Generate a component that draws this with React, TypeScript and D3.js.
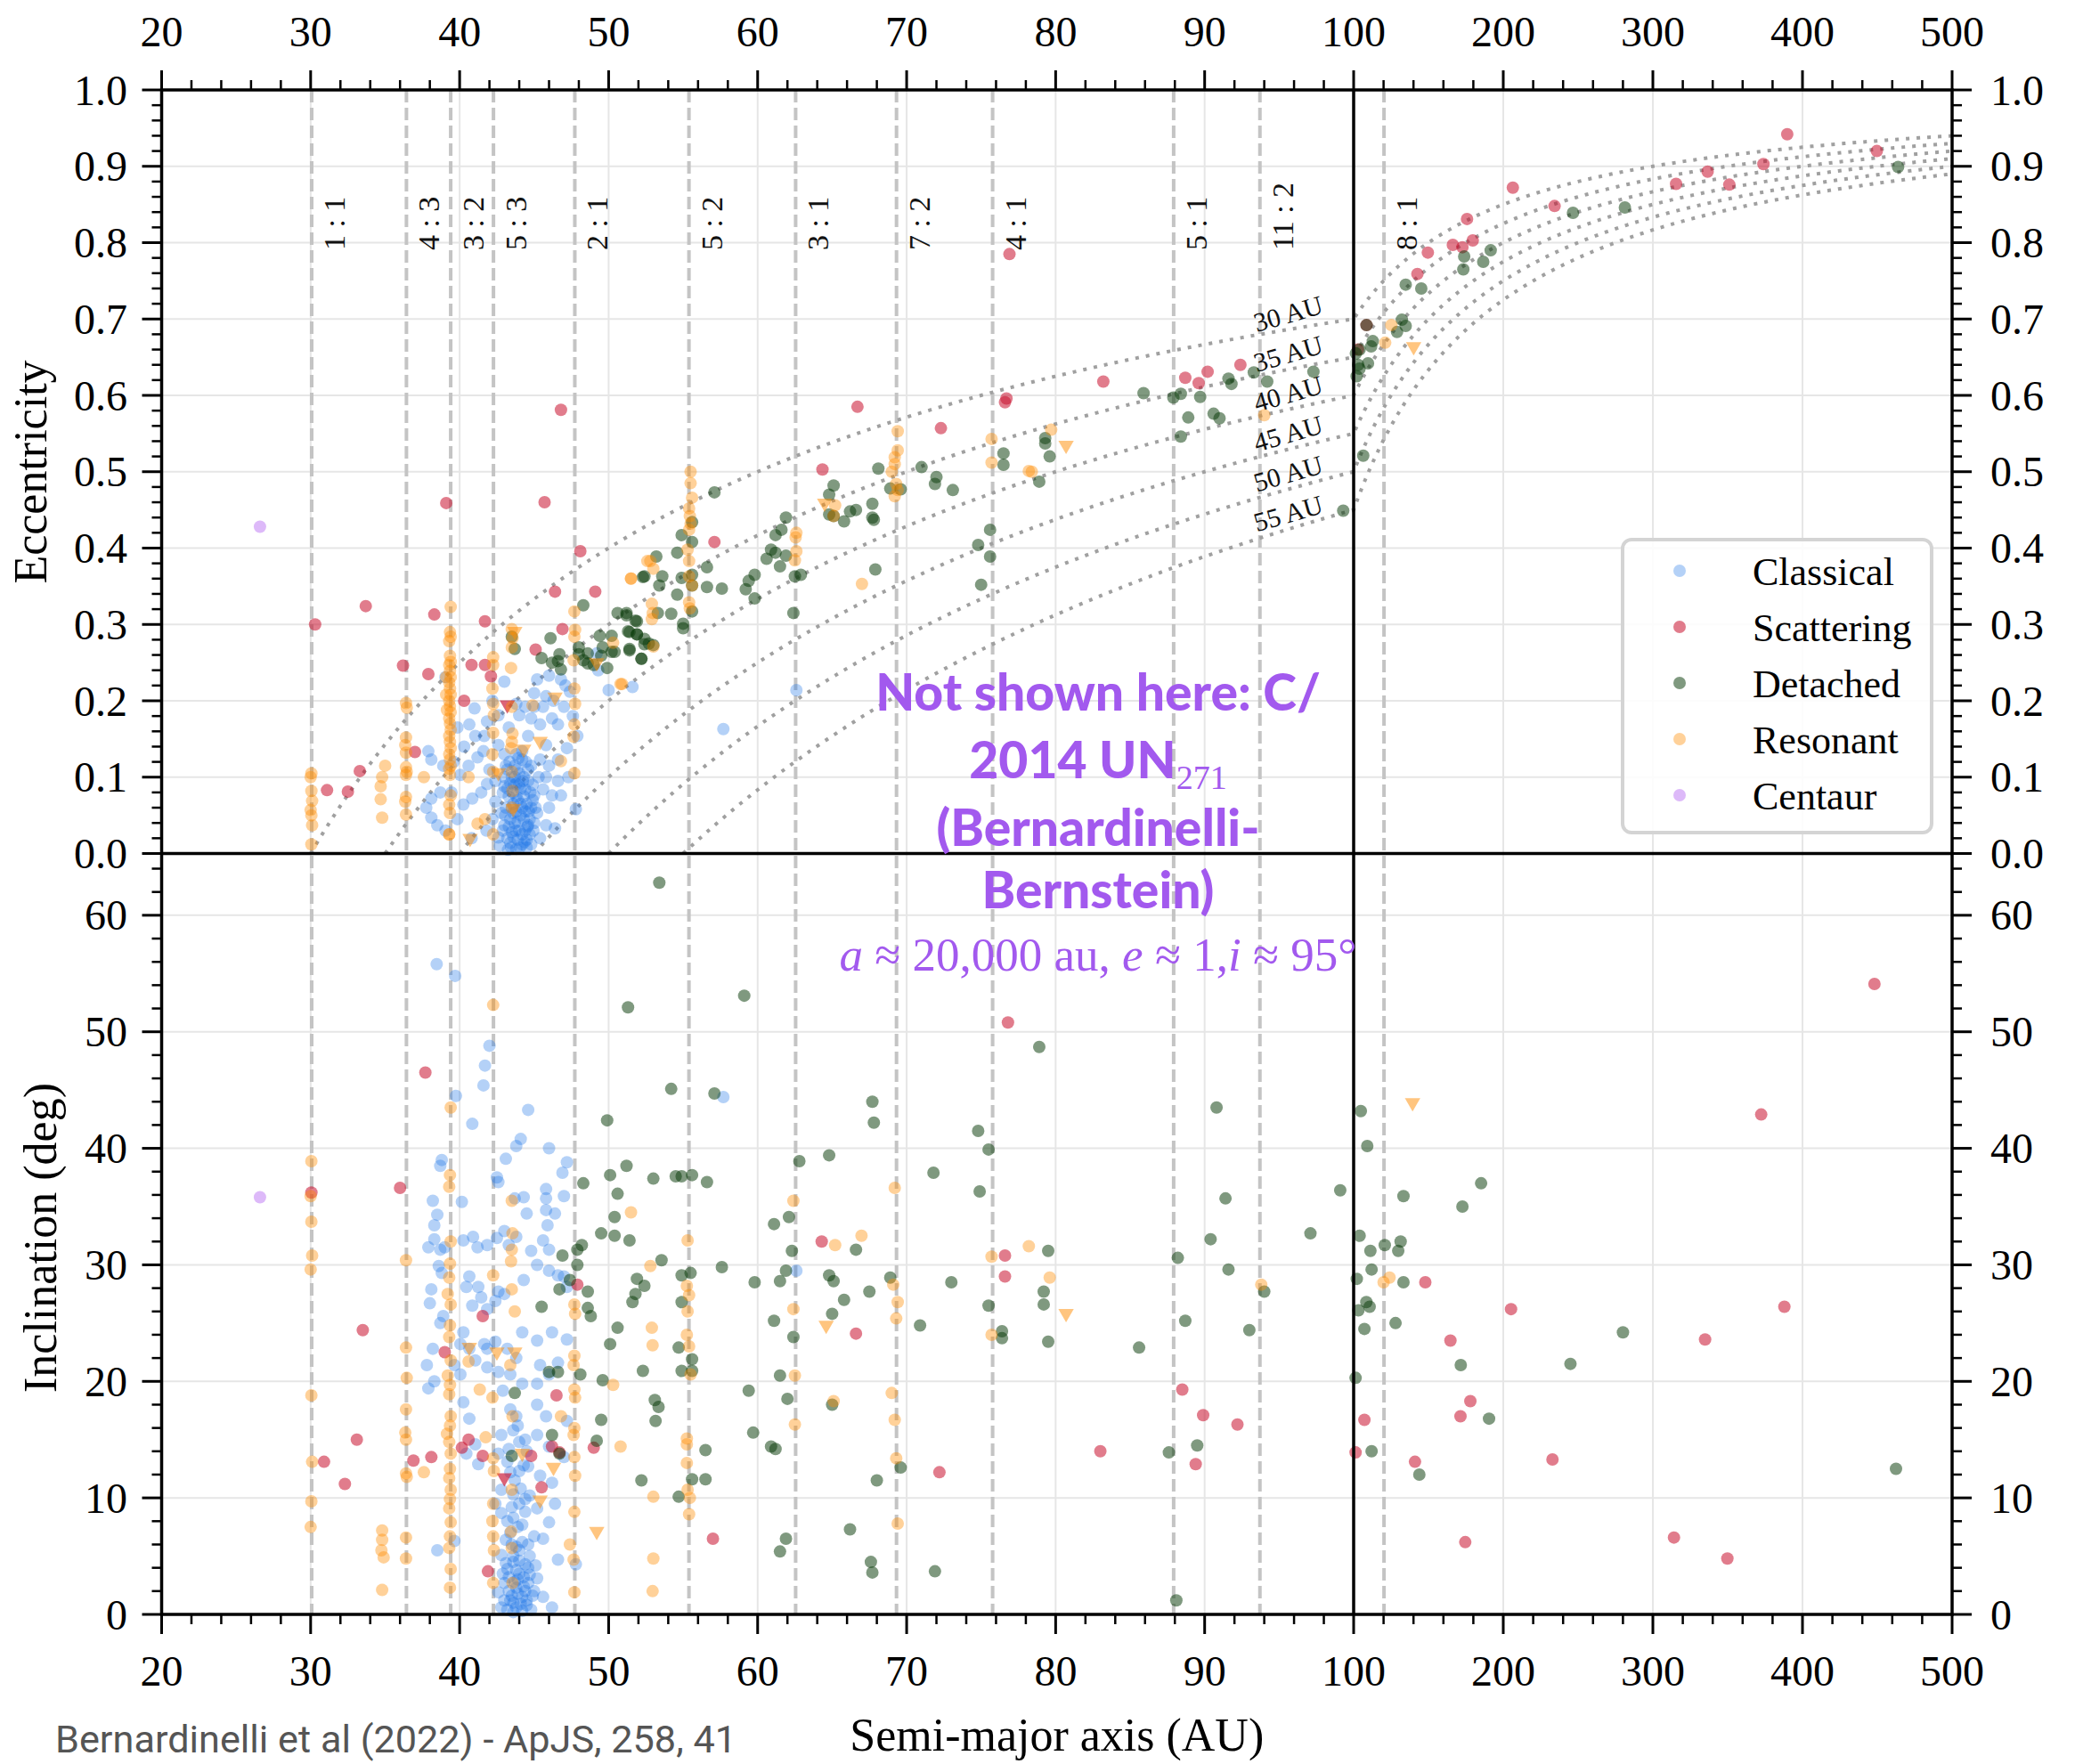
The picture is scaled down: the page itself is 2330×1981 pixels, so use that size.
import React from 'react';
import * as d3 from 'd3';

type Pt = [number, number];

// semi-major axis (AU), eccentricity / inclination (deg)
const classicalEcc: Pt[] = [
  [43.0,0.225],[45.2,0.228],[46.0,0.233],[46.8,0.228],[47.1,0.22],[45.8,0.206],[45.6,0.192],[45.0,0.192],[44.4,0.192],[44.8,0.177],
  [45.4,0.169],[46.2,0.177],[46.6,0.169],[47.0,0.192],[47.4,0.212],[47.9,0.154],[47.2,0.138],[46.6,0.123],[46.0,0.115],[45.4,0.123],
  [44.8,0.115],[44.2,0.123],[43.8,0.13],[43.0,0.13],[42.6,0.142],[41.6,0.134],[41.2,0.126],[40.6,0.115],[40.05,0.103],[39.45,0.08],
  [38.7,0.08],[38.1,0.072],[37.76,0.06],[38.1,0.047],[38.5,0.037],[39.05,0.03],[39.85,0.045],[40.25,0.064],[40.85,0.072],[41.45,0.08],
  [41.84,0.091],[42.4,0.095],[43.0,0.088],[43.8,0.091],[44.4,0.084],[45.0,0.076],[45.6,0.084],[46.2,0.076],[46.8,0.076],[46.6,0.095],
  [45.8,0.1],[45.2,0.053],[45.8,0.037],[46.4,0.033],[44.6,0.037],[43.0,0.037],[42.6,0.021],[43.4,0.014],[43.8,0.006],[42.8,0.053],
  [42.4,0.068],[44.2,0.06],[43.6,0.053],[47.8,0.058],[50.0,0.214],[51.6,0.218],[49.3,0.24],[49.2,0.262],[37.9,0.134],[38.1,0.123],
  [38.9,0.115],[39.85,0.165],[40.65,0.169],[41.05,0.154],[41.84,0.173],[41.65,0.154],[43.8,0.196],[44.0,0.181],[42.6,0.181],[43.3,0.165],
  [45.8,0.142],[44.6,0.154],[44.2,0.134],[39.05,0.231],[57.7,0.163],[62.6,0.214],
  [43.2,0.11],[43.5,0.1],[43.7,0.115],[44.0,0.105],[44.3,0.1],[44.6,0.11],[43.3,0.075],[43.6,0.08],[43.9,0.07],[44.1,0.085],
  [44.5,0.065],[44.8,0.06],[43.1,0.06],[43.4,0.045],[43.7,0.04],[44.0,0.03],[44.3,0.045],[44.7,0.025],[43.2,0.02],[43.5,0.028],
  [43.9,0.018],[44.2,0.012],[44.5,0.008],[43.6,0.065],[44.9,0.09],[43.0,0.1],[42.9,0.08],[44.4,0.03],[43.8,0.055],[44.1,0.05],
  [41.0,0.19],[40.3,0.14],[39.6,0.12],[42.0,0.11],[42.2,0.2],[45.0,0.21],[46.3,0.2],[47.6,0.18],[47.3,0.1],[46.0,0.06],
  [45.4,0.02],[41.8,0.03],[40.8,0.02],[42.2,0.045],
  [43.1,0.115],[43.4,0.092],[43.7,0.1],[44.0,0.09],[44.3,0.075],[44.6,0.095],[44.9,0.07],[43.2,0.085],[43.5,0.06],[43.8,0.075],
  [44.1,0.065],[44.4,0.055],[44.7,0.045],[45.0,0.04],[43.3,0.035],[43.6,0.022],[43.9,0.042],[44.2,0.025],[44.5,0.018],[44.8,0.012],
  [43.05,0.05],[43.45,0.008],[43.75,0.03],[44.05,0.008],[44.35,0.015],[44.65,0.055],[44.95,0.03],[43.35,0.12],[43.85,0.11],[44.45,0.12],
  [42.9,0.03],[45.1,0.06],[43.65,0.09],[44.25,0.095],[43.95,0.125],[44.75,0.08],[42.7,0.01],[45.3,0.1],[43.25,0.005],[44.55,0.035],
];
const classicalInc: Pt[] = [
  [38.46,55.8],[39.7,54.8],[42.0,48.8],[41.7,47.1],[41.6,45.4],[39.75,44.5],[40.85,42.1],[44.6,43.3],[44.1,40.8],[43.8,40.2],
  [43.1,39.1],[46.0,40.0],[47.2,38.8],[46.9,37.9],[38.8,39.0],[38.7,38.5],[42.5,37.5],[42.6,37.1],[40.15,35.4],[38.2,35.5],
  [38.5,34.3],[38.3,33.4],[38.3,32.2],[37.9,31.5],[38.7,31.3],[39.0,31.5],[38.6,29.9],[38.8,29.3],[40.25,32.1],[40.9,32.4],
  [41.2,31.5],[41.85,31.7],[42.5,32.3],[43.0,32.9],[43.8,32.4],[43.7,35.7],[44.3,35.8],[44.5,34.4],[45.8,36.5],[45.8,35.7],
  [45.8,34.7],[46.4,34.4],[45.9,33.4],[47.0,35.9],[45.6,32.1],[44.8,31.2],[46.0,31.3],[45.2,30.0],[46.0,29.5],[46.6,29.1],
  [47.0,29.0],[47.2,28.1],[44.3,28.7],[43.3,31.7],[42.6,27.7],[42.4,26.9],[43.0,27.5],[40.65,29.0],[40.45,28.1],[41.25,28.1],
  [41.45,27.2],[40.85,26.5],[41.85,26.2],[40.25,24.2],[40.05,23.2],[40.65,22.8],[41.65,23.2],[41.85,22.8],[42.4,23.4],[43.2,22.8],
  [43.8,22.0],[44.2,24.2],[45.2,23.5],[46.2,24.2],[47.2,23.6],[45.4,21.4],[46.6,21.6],[46.0,20.6],[45.2,19.8],[44.2,19.8],
  [43.4,20.6],[42.6,20.8],[41.85,21.2],[41.05,21.8],[40.05,20.6],[39.65,21.4],[37.8,21.4],[38.2,22.8],[38.3,20.0],[37.9,19.4],
  [38.1,27.9],[38.0,26.7],[38.7,25.0],[38.9,25.6],[42.9,19.2],[43.4,17.6],[43.8,17.0],[45.2,18.0],[45.8,17.0],[47.2,16.6],
  [40.25,18.2],[40.65,16.8],[41.05,14.6],[40.45,13.8],[41.25,12.9],[42.8,15.4],[43.6,15.8],[44.4,15.0],[45.2,15.4],[46.0,14.4],
  [47.0,13.5],[42.6,13.8],[43.2,13.1],[44.0,12.3],[44.6,12.7],[45.4,11.9],[46.2,11.3],[42.8,10.7],[43.6,10.3],[44.4,9.9],
  [45.2,9.1],[46.4,9.5],[46.0,7.9],[42.4,9.5],[42.8,8.7],[43.6,8.3],[44.2,7.7],[45.0,6.7],[45.6,6.5],[46.6,4.7],
  [47.8,4.3],[38.5,5.5],[39.65,6.3],
  [42.8,5.1],[43.2,3.9],[43.6,4.5],[44.0,3.5],[44.4,4.3],[43.0,2.7],[43.8,2.3],[44.2,1.5],[43.4,1.2],[42.8,0.6],
  [44.6,2.7],[45.0,2.0],[43.8,0.6],[42.6,1.9],[45.2,3.1],[45.6,1.5],[46.2,0.6],[43.5,6.0],[44.0,5.5],[43.3,2.0],
  [44.5,0.8],[43.9,3.0],[44.3,2.4],[43.1,4.4],[44.7,5.0],[43.6,1.0],[57.7,44.4],[62.6,29.5],
  [43.2,0.4],[43.5,1.6],[43.8,3.8],[44.1,0.9],[44.4,2.0],[44.7,3.4],[43.0,1.2],[43.3,3.2],[43.6,5.0],[43.9,1.8],
  [44.2,6.2],[44.5,1.2],[44.8,0.4],[43.4,7.0],[43.7,2.8],[44.0,4.6],[44.3,3.2],[44.6,4.0],[43.1,6.4],[43.9,7.5],
  [44.4,8.8],[43.5,9.2],[44.1,10.8],[43.7,11.5],[44.3,12.8],[43.3,14.2],[44.0,14.8],[43.6,0.2],[44.2,0.3],[44.9,1.6],
  [45.1,4.2],[42.9,3.5],[43.8,5.8],[44.6,6.0],[43.2,8.0],[44.0,9.5],[44.7,10.2],[43.4,12.2],[44.5,14.0],[43.9,16.2],
];

const scatteringEcc: Pt[] = [
  [30.3,0.30],[31.1,0.083],[32.5,0.081],[33.3,0.108],[33.7,0.324],[36.2,0.246],[37.0,0.133],[37.9,0.235],[38.3,0.313],[39.1,0.459],
  [40.3,0.20],[40.8,0.247],[41.7,0.304],[41.7,0.247],[42.1,0.232],[45.1,0.267],[45.7,0.46],[46.4,0.343],[46.8,0.581],[46.9,0.294],
  [48.1,0.396],[49.1,0.343],[57.1,0.408],[64.35,0.503],[66.7,0.585],[72.3,0.557],[76.6,0.591],[76.7,0.596],[76.9,0.785],[83.2,0.618],
  [88.7,0.623],[89.6,0.616],[90.2,0.631],[92.4,0.640],[102.9,0.66],[108.6,0.692],[142.6,0.759],[149.6,0.787],[166.3,0.797],[172.7,0.794],
  [175.8,0.831],[179.6,0.803],[206.4,0.872],[234.3,0.848],[315.5,0.877],[336.6,0.893],[351.1,0.876],[373.9,0.903],[389.8,0.942],[449.7,0.92],
];
const scatteringInc: Pt[] = [
  [37.7,46.5],[30.05,36.2],[36.0,36.6],[33.5,24.4],[33.1,15.0],[30.9,13.1],[32.3,11.2],[36.9,13.2],[38.1,13.5],[39.0,22.5],
  [41.55,25.6],[40.15,14.3],[40.6,15.0],[41.55,13.6],[44.8,13.6],[46.5,18.8],[47.9,28.3],[46.2,14.4],[46.7,13.9],[45.5,10.9],
  [49.0,14.3],[41.9,3.7],[76.8,50.8],[64.3,32.0],[66.6,24.1],[76.6,30.8],[76.6,29.0],[72.2,12.2],[83.0,14.0],[88.5,19.3],
  [89.9,17.1],[92.2,16.3],[89.4,12.9],[57.0,6.5],[448.1,54.1],[372.4,42.9],[387.9,26.4],[334.9,23.6],[205.2,26.2],[164.7,23.5],
  [147.9,28.5],[178.0,18.3],[171.4,17.0],[107.2,16.7],[101.3,13.9],[141.0,13.1],[232.9,13.3],[174.6,6.2],[314.1,6.6],[349.8,4.8],
];
const scatteringTriEcc: Pt[] = [[43.2,0.196]];
const scatteringTriInc: Pt[] = [[43.0,11.8]];

const detachedEcc: Pt[] = [
  [48.3,0.325],[46.1,0.282],[45.5,0.256],[46.7,0.261],[46.2,0.25],[46.8,0.241],[46.6,0.252],[48.0,0.27],[48.0,0.261],[48.6,0.262],
  [48.6,0.249],[48.3,0.253],[49.0,0.247],[49.4,0.285],[50.2,0.285],[49.6,0.27],[50.2,0.264],[50.4,0.264],[49.9,0.243],[49.5,0.259],
  [51.4,0.266],[52.2,0.255],[50.6,0.315],[51.2,0.312],[51.8,0.305],[51.4,0.29],[51.9,0.287],[52.4,0.274],[52.3,0.362],[43.5,0.284],
  [43.7,0.268],[57.1,0.473],[68.1,0.504],[71.0,0.506],[72.0,0.493],[71.9,0.484],[73.1,0.476],[65.1,0.482],[64.8,0.47],[64.8,0.444],
  [65.1,0.442],[65.8,0.435],[66.2,0.448],[66.6,0.45],[67.7,0.458],[67.7,0.44],[67.8,0.437],[68.9,0.478],[69.6,0.477],[76.5,0.524],
  [76.5,0.509],[79.3,0.544],[79.3,0.537],[79.6,0.52],[78.9,0.487],[75.6,0.424],[74.8,0.404],[75.6,0.389],[75.0,0.352],[67.9,0.372],
  [61.9,0.44],[61.6,0.424],[61.2,0.417],[60.9,0.398],[61.2,0.394],[61.9,0.39],[61.5,0.376],[62.5,0.363],[62.9,0.365],[62.4,0.315],
  [60.6,0.386],[59.8,0.365],[59.4,0.357],[59.2,0.346],[59.8,0.334],[57.6,0.347],[56.6,0.375],[56.6,0.349],[55.6,0.434],[55.6,0.408],
  [55.6,0.365],[55.6,0.351],[55.6,0.317],[55.0,0.295],[55.0,0.301],[54.6,0.339],[54.6,0.394],[54.9,0.417],[54.2,0.314],[54.9,0.361],
  [53.6,0.363],[53.4,0.351],[53.2,0.389],[52.4,0.363],[53.3,0.315],[51.9,0.304],[51.2,0.315],[51.3,0.291],[51.9,0.287],[52.4,0.281],
  [52.7,0.275],[51.4,0.268],[52.2,0.255],[53.0,0.273],
  [85.9,0.603],[87.9,0.597],[88.4,0.602],[89.7,0.598],[88.9,0.571],[90.6,0.576],[91.0,0.570],[88.4,0.546],[91.6,0.622],[91.8,0.615],
  [93.3,0.630],[94.2,0.618],[97.3,0.631],[99.3,0.449],[106.4,0.521],
  [108.6,0.692],[112.8,0.671],[111.7,0.664],[109.6,0.642],[103.9,0.635],[101.5,0.655],[103.0,0.64],[104.0,0.66],[102.0,0.625],
  [463.9,0.899],[281.3,0.846],[246.6,0.839],[191.6,0.790],[186.6,0.775],[173.9,0.782],[173.3,0.765],[134.8,0.745],[145.2,0.740],[132.2,0.699],
  [134.8,0.691],[129.0,0.683],
];
const detachedInc: Pt[] = [
  [51.3,52.1],[49.9,42.4],[53.0,37.4],[51.2,38.5],[50.1,37.7],[48.3,37.0],[50.6,36.1],[50.4,34.1],[49.5,32.7],[50.4,32.5],
  [51.4,32.1],[53.55,30.4],[48.2,31.7],[47.9,31.3],[47.9,30.0],[46.9,30.8],[47.4,28.7],[46.7,27.9],[45.5,26.4],[48.6,27.7],
  [48.6,26.3],[48.8,25.6],[51.9,28.8],[52.4,28.2],[51.8,27.5],[51.6,26.8],[50.6,24.6],[50.1,23.2],[46.0,20.8],[46.6,20.8],
  [48.1,20.6],[49.6,20.1],[52.3,20.9],[43.7,19.0],[53.1,18.4],[53.35,17.8],[53.15,16.6],[49.5,16.7],[46.2,15.4],[46.7,13.8],
  [43.5,13.6],[49.2,14.9],[52.2,11.5],[53.4,62.8],
  [59.1,53.1],[54.2,45.1],[57.1,44.7],[67.7,44.0],[67.8,42.2],[74.8,41.5],[75.5,39.9],[78.9,48.7],[90.8,43.5],[99.1,36.4],
  [97.1,32.7],[91.4,35.7],[90.4,32.2],[88.2,30.6],[91.6,29.6],[94.0,27.7],[93.0,24.4],[88.7,25.2],[85.6,22.9],[79.5,31.2],
  [79.2,27.7],[79.2,26.6],[79.5,23.4],[75.5,26.5],[76.4,24.3],[76.4,23.7],[74.9,36.3],[73.0,28.5],[71.8,37.9],[70.9,24.8],
  [68.9,28.9],[67.5,27.7],[65.8,27.0],[64.8,29.1],[65.1,28.6],[65.0,25.8],[64.8,39.4],[66.6,31.3],[62.8,38.9],[62.3,31.2],
  [61.9,29.5],[62.1,34.1],[61.1,33.5],[61.5,28.6],[61.1,25.2],[62.4,23.8],[59.8,28.5],[61.5,20.5],[62.0,18.5],[59.4,19.2],
  [59.7,15.6],[60.9,14.4],[61.2,14.2],[56.5,14.1],[55.6,11.6],[56.5,11.6],[54.7,10.1],[69.6,12.6],[68.0,11.5],[66.2,7.3],
  [61.9,6.5],[61.5,5.4],[67.6,4.5],[67.7,3.6],[71.9,3.7],[88.1,1.2],[87.6,13.9],[89.5,14.5],[65.0,18.0],[57.6,29.8],
  [54.5,37.6],[54.9,37.6],[55.6,37.7],[56.6,37.1],[54.9,29.1],[55.5,29.3],[54.9,26.8],[54.7,22.9],[55.6,21.9],[54.9,20.9],
  [55.6,20.9],
  [104.8,43.2],[109.1,40.2],[133.3,35.9],[185.2,37.0],[172.7,35.0],[104.0,32.5],[111.2,31.2],[120.8,31.7],[131.4,32.0],[129.8,31.2],
  [112.0,29.6],[102.1,28.8],[133.3,28.5],[108.5,26.8],[110.7,26.4],[103.2,26.1],[107.2,24.5],[128.0,25.0],[280.0,24.2],[244.9,21.5],
  [171.6,21.4],[101.3,20.3],[190.5,16.8],[112.0,14.0],[143.9,12.0],[462.5,12.5],
];

const resonantEcc: Pt[] = [
  [30.05,0.105],[30.0,0.1],[30.05,0.082],[30.1,0.069],[30.0,0.057],[30.05,0.05],[30.1,0.037],[30.05,0.012],
  [35.0,0.115],[34.8,0.1],[34.7,0.088],[34.7,0.071],[34.8,0.047],
  [36.4,0.197],[36.45,0.191],[36.4,0.152],[36.35,0.142],[36.4,0.132],[36.4,0.113],[36.45,0.107],[36.4,0.103],[36.4,0.074],[36.35,0.068],
  [36.4,0.051],[37.6,0.1],
  [39.4,0.323],[39.35,0.29],[39.4,0.284],[39.3,0.278],[39.35,0.259],[39.4,0.251],[39.3,0.247],[39.35,0.239],[39.4,0.231],[39.3,0.224],
  [39.35,0.216],[39.4,0.208],[39.3,0.2],[39.35,0.193],[39.4,0.185],[39.3,0.177],[39.35,0.17],[39.4,0.162],[39.3,0.154],[39.35,0.146],
  [39.4,0.138],[39.3,0.13],[39.35,0.123],[39.4,0.115],[39.3,0.111],[39.35,0.103],[39.4,0.076],[39.3,0.064],[39.35,0.053],[39.3,0.025],
  [39.1,0.231],[39.1,0.208],[39.15,0.188],
  [42.25,0.257],[42.25,0.247],[42.2,0.216],[42.25,0.196],[42.3,0.181],[42.25,0.158],[42.2,0.13],[42.25,0.107],[42.25,0.025],
  [43.5,0.294],[43.55,0.282],[43.5,0.27],[43.45,0.243],[43.5,0.192],[43.55,0.157],[43.5,0.146],[43.45,0.138],[43.5,0.107],[43.55,0.082],
  [43.5,0.06],
  [47.7,0.317],[47.75,0.293],[47.7,0.284],[47.65,0.253],[47.7,0.216],[47.75,0.196],[47.7,0.169],[47.65,0.153],[47.7,0.105],
  [46.8,0.121],[44.9,0.194],[51.5,0.36],[50.3,0.276],[50.8,0.222],[52.6,0.383],[41.7,0.045],[41.2,0.039],[39.3,0.025],[40.6,0.1],
  [55.6,0.466],[55.4,0.452],[55.45,0.442],[55.5,0.432],[55.4,0.424],[55.3,0.398],[55.4,0.383],[55.4,0.363],[55.6,0.351],[55.4,0.329],
  [55.45,0.321],[55.5,0.5],[55.5,0.485],
  [62.6,0.42],[62.55,0.414],[62.6,0.396],[62.5,0.384],
  [69.4,0.553],[69.4,0.528],[69.2,0.519],[69.2,0.51],[69.0,0.5],[69.3,0.484],[69.4,0.476],[69.2,0.468],
  [65.2,0.456],[65.1,0.442],[75.7,0.543],[75.7,0.512],[78.2,0.501],[79.7,0.555],[67.0,0.353],[51.5,0.36],[52.8,0.383],[53.0,0.373],
  [52.9,0.327],[52.96,0.315],[52.9,0.307],[53.0,0.271],[50.9,0.222],[78.4,0.50],[94.0,0.574],[125.2,0.692],[121.1,0.669],
];
const resonantInc: Pt[] = [
  [30.05,38.9],[30.0,35.9],[30.05,33.7],[30.1,30.8],[30.0,29.6],[30.05,18.8],[30.1,13.1],[30.05,9.7],[30.0,7.5],
  [34.8,7.2],[34.8,6.4],[34.75,5.5],[34.9,4.9],[34.8,2.1],
  [36.4,30.4],[36.4,22.9],[36.45,20.3],[36.4,17.6],[36.35,15.6],[36.4,15.0],[36.4,12.1],[36.45,11.8],[36.4,6.6],[36.4,4.8],[37.6,12.2],
  [39.4,43.5],[39.35,37.7],[39.3,36.7],[39.4,32.0],[39.35,30.1],[39.3,28.9],[39.4,26.6],[39.35,24.8],[39.3,23.8],[39.4,21.8],
  [39.35,19.7],[39.3,18.9],[39.4,17.0],[39.35,16.2],[39.3,14.8],[39.4,13.8],[39.35,12.5],[39.3,11.7],[39.4,10.7],[39.35,9.9],
  [39.3,9.1],[39.4,7.9],[39.35,6.7],[39.3,5.7],[39.4,3.9],[39.35,2.3],[39.2,27.5],[39.2,20.5],[39.15,15.5],
  [42.25,52.3],[42.25,29.1],[42.2,18.6],[42.25,13.4],[42.3,12.3],[42.25,9.5],[42.2,8.0],[42.25,6.7],[42.3,5.5],[42.25,2.7],
  [43.5,35.5],[43.55,32.7],[43.5,31.3],[43.45,30.3],[43.5,27.9],[43.55,17.0],[43.5,10.7],[43.45,7.1],[43.5,5.7],[43.55,2.7],
  [43.7,26.0],[43.4,21.4],[40.6,21.7],[41.35,19.3],[41.75,15.2],[46.8,17.0],[47.4,6.0],
  [47.7,26.6],[47.75,25.8],[47.7,22.2],[47.65,21.4],[47.7,19.3],[47.75,18.6],[47.7,16.0],[47.65,15.4],[47.7,13.5],[47.75,11.9],
  [47.7,8.8],[47.65,4.7],[47.7,1.9],
  [50.3,19.7],[50.8,14.4],[51.5,34.5],[52.9,24.6],[52.95,23.1],[53.0,10.1],[53.0,4.8],[52.95,2.0],[52.8,29.9],
  [69.2,36.6],[62.4,35.5],[66.97,32.5],[65.2,31.7],[78.2,31.6],[75.7,30.7],[79.6,28.9],[93.8,28.3],[69.1,28.3],[69.4,26.8],
  [69.3,25.4],[75.7,24.0],[62.4,26.2],[62.5,20.5],[62.5,16.3],[69.0,19.0],[69.2,16.7],[69.3,13.4],[69.4,7.8],[65.1,18.3],
  [55.3,32.1],[55.25,28.2],[55.4,27.4],[55.3,26.0],[55.25,24.0],[55.4,23.0],[55.5,20.6],[55.25,15.1],[55.25,14.6],[55.25,13.0],
  [55.3,10.7],[55.45,10.0],[55.4,8.6],
  [120.0,28.5],[124.0,28.9],
];
const resonantTriEcc: Pt[] = [
  [43.7,0.292],[46.4,0.206],[45.4,0.148],[44.3,0.138],[42.6,0.107],[43.6,0.06],[40.7,0.021],[49.2,0.251],[64.5,0.46],[80.7,0.536],
  [140.1,0.665],
];
const resonantTriInc: Pt[] = [
  [40.65,23.0],[42.5,22.6],[43.7,22.6],[44.2,13.9],[46.3,12.7],[45.4,9.9],[49.2,7.2],[64.6,24.9],[80.7,25.9],[139.4,44.0],
];

const centaurEcc: Pt[] = [[26.6,0.428]];
const centaurInc: Pt[] = [[26.6,35.8]];

const classNames = ['Classical', 'Scattering', 'Detached', 'Resonant', 'Centaur'];
const classColors = ['#1a73e8', '#c8102e', '#0a3c0a', '#ff8c00', '#aa50f0'];
const classAlpha = [0.33, 0.55, 0.52, 0.4, 0.4];

// mean-motion resonances with Neptune
const resonanceLabels = ['1 : 1', '4 : 3', '3 : 2', '5 : 3', '2 : 1', '5 : 2', '3 : 1', '7 : 2', '4 : 1', '5 : 1', '11 : 2', '8 : 1'];
const resonanceA = [30.07, 36.43, 39.40, 42.27, 47.73, 55.39, 62.55, 69.32, 75.77, 87.92, 93.71, 120.3];

// constant-perihelion curves
const perihelia = [30, 35, 40, 45, 50, 55];

const xMajor = [20, 30, 40, 50, 60, 70, 80, 90, 100, 200, 300, 400, 500];
const eccTicks = [0, 0.1, 0.2, 0.3, 0.4, 0.5, 0.6, 0.7, 0.8, 0.9, 1.0];
const incTicks = [0, 10, 20, 30, 40, 50, 60];

const W = 2330, H = 1981;
const X0 = 181.5, XMID = 1520, X1 = 2192;
const TOP = 101, MID = 958.5, BOT = 1813;
const SERIF = '"Liberation Serif", "Times New Roman", serif';

const x = d3.scaleLinear().domain([20, 100, 500]).range([X0, XMID, X1]);
const yEcc = d3.scaleLinear().domain([0, 1]).range([MID, TOP]);
const yInc = d3.scaleLinear().domain([0, 65.3]).range([BOT, MID]);

const xMinor = [...d3.range(20, 100, 2), ...d3.range(100, 500, 20)].filter(v => !xMajor.includes(v));
const eccMinor = d3.range(0, 1.001, 0.02).filter(v => Math.abs(v * 10 - Math.round(v * 10)) > 1e-6);
const incMinor = d3.range(0, 65, 2).filter(v => v % 10 !== 0);

const tri = d3.symbol(d3.symbolTriangle, 130)() as string;

function Dots({ pts, y, ci }: { pts: Pt[]; y: d3.ScaleLinear<number, number>; ci: number }) {
  return (
    <g fill={classColors[ci]} fillOpacity={classAlpha[ci]}>
      {pts.map((p, k) => <circle key={k} cx={x(p[0])} cy={y(p[1])} r={7} />)}
    </g>
  );
}
function Tris({ pts, y, ci }: { pts: Pt[]; y: d3.ScaleLinear<number, number>; ci: number }) {
  return (
    <g fill={classColors[ci]} fillOpacity={classAlpha[ci] + 0.1}>
      {pts.map((p, k) => <path key={k} d={tri} transform={`translate(${x(p[0])},${y(p[1]) + 1}) rotate(180)`} />)}
    </g>
  );
}

export default function App() {
  const curves = perihelia.map(q => {
    const as = [...d3.range(q, 100, 0.25), ...d3.range(100, 500.1, 2)];
    return d3.line<number>().x(a => x(a)).y(a => yEcc(1 - q / a))(as) as string;
  });
  const labelA = 95.6;

  return (
    <svg width={W} height={H} style={{ position: 'absolute', left: 0, top: 0, background: '#fff' }}
      fontFamily={SERIF}>
      <rect width={W} height={H} fill="#fff" />

      {/* grid */}
      <g stroke="#e6e6e6" strokeWidth={2}>
        {xMajor.slice(1, -1).filter(v => v !== 100).map(v => (
          <line key={v} x1={x(v)} x2={x(v)} y1={TOP} y2={BOT} />
        ))}
        {eccTicks.slice(1, -1).map(v => <line key={'e' + v} x1={X0} x2={X1} y1={yEcc(v)} y2={yEcc(v)} />)}
        {incTicks.slice(1).map(v => <line key={'i' + v} x1={X0} x2={X1} y1={yInc(v)} y2={yInc(v)} />)}
      </g>

      {/* resonances */}
      <g stroke="#c4c4c4" strokeWidth={4} strokeDasharray="14 6">
        {resonanceA.map((a, k) => <line key={k} x1={x(a)} x2={x(a)} y1={TOP} y2={BOT} />)}
      </g>
      <g fontSize={34} fill="#111" fontFamily={SERIF}>
        {resonanceA.map((a, k) => (
          <text key={k} transform={`translate(${x(a) + 37},${yEcc(0.79)}) rotate(-90)`}>{resonanceLabels[k]}</text>
        ))}
      </g>

      {/* perihelion curves */}
      <g fill="none" stroke="#a0a0a0" strokeWidth={4} strokeDasharray="4 8">
        {curves.map((d, k) => <path key={k} d={d} />)}
      </g>
      <g fontSize={30} fill="#111" textAnchor="middle" fontFamily={SERIF}>
        {perihelia.map(q => (
          <text key={q} dominantBaseline="central"
            transform={`translate(${x(labelA)},${yEcc(1 - q / labelA) - 18}) rotate(-16)`}>{`${q} AU`}</text>
        ))}
      </g>

      {/* points */}
      <Dots pts={classicalEcc} y={yEcc} ci={0} />
      <Dots pts={classicalInc} y={yInc} ci={0} />
      <Dots pts={scatteringEcc} y={yEcc} ci={1} />
      <Dots pts={scatteringInc} y={yInc} ci={1} />
      <Tris pts={scatteringTriEcc} y={yEcc} ci={1} />
      <Tris pts={scatteringTriInc} y={yInc} ci={1} />
      <Dots pts={detachedEcc} y={yEcc} ci={2} />
      <Dots pts={detachedInc} y={yInc} ci={2} />
      <Dots pts={resonantEcc} y={yEcc} ci={3} />
      <Dots pts={resonantInc} y={yInc} ci={3} />
      <Tris pts={resonantTriEcc} y={yEcc} ci={3} />
      <Tris pts={resonantTriInc} y={yInc} ci={3} />
      <Dots pts={centaurEcc} y={yEcc} ci={4} />
      <Dots pts={centaurInc} y={yInc} ci={4} />

      {/* frame */}
      <g stroke="#000" strokeWidth={3.5} fill="none">
        <rect x={X0} y={TOP} width={X1 - X0} height={BOT - TOP} />
        <line x1={X0} x2={X1} y1={MID} y2={MID} />
        <line x1={x(100)} x2={x(100)} y1={TOP} y2={BOT} />
      </g>

      {/* ticks */}
      <g stroke="#000">
        {xMajor.map(v => (
          <g key={v} strokeWidth={3}>
            <line x1={x(v)} x2={x(v)} y1={TOP} y2={TOP - 22} />
            <line x1={x(v)} x2={x(v)} y1={BOT} y2={BOT + 22} />
          </g>
        ))}
        {xMinor.map(v => (
          <g key={v} strokeWidth={2.5}>
            <line x1={x(v)} x2={x(v)} y1={TOP} y2={TOP - 11} />
            <line x1={x(v)} x2={x(v)} y1={BOT} y2={BOT + 11} />
          </g>
        ))}
        {[...eccTicks.map(yEcc), ...incTicks.map(yInc)].map((yy, k) => (
          <g key={'m' + k} strokeWidth={3}>
            <line x1={X0} x2={X0 - 22} y1={yy} y2={yy} />
            <line x1={X1} x2={X1 + 22} y1={yy} y2={yy} />
          </g>
        ))}
        {[...eccMinor.map(yEcc), ...incMinor.map(yInc)].map((yy, k) => (
          <g key={'n' + k} strokeWidth={2.5}>
            <line x1={X0} x2={X0 - 11} y1={yy} y2={yy} />
            <line x1={X1} x2={X1 + 11} y1={yy} y2={yy} />
          </g>
        ))}
      </g>

      {/* tick labels */}
      <g fontSize={48} fill="#000" fontFamily={SERIF}>
        {xMajor.map(v => (
          <g key={v} textAnchor="middle">
            <text x={x(v)} y={52}>{v}</text>
            <text x={x(v)} y={1893}>{v}</text>
          </g>
        ))}
        {eccTicks.map(v => (
          <g key={'e' + v} dominantBaseline="central">
            <text x={143} y={yEcc(v)} textAnchor="end">{v.toFixed(1)}</text>
            <text x={2235} y={yEcc(v)}>{v.toFixed(1)}</text>
          </g>
        ))}
        {incTicks.map(v => (
          <g key={'i' + v} dominantBaseline="central">
            <text x={143} y={yInc(v)} textAnchor="end">{v}</text>
            <text x={2235} y={yInc(v)}>{v}</text>
          </g>
        ))}
      </g>

      {/* axis labels */}
      <g fontSize={52} fill="#000" textAnchor="middle" fontFamily={SERIF}>
        <text transform="translate(52,530) rotate(-90)">Eccentricity</text>
        <text transform="translate(63,1390) rotate(-90)">Inclination (deg)</text>
        <text x={(X0 + X1) / 2} y={1966}>Semi-major axis (AU)</text>
      </g>

      {/* legend */}
      <g fontFamily={SERIF}>
        <rect x={1822} y={606} width={347} height={329} rx={10} fill="#fff" fillOpacity={0.85}
          stroke="#d4d4d4" strokeWidth={4} />
        {classNames.map((n, k) => (
          <g key={n}>
            <circle cx={1886} cy={641 + k * 63} r={7} fill={classColors[k]} fillOpacity={classAlpha[k]} />
            <text x={1968} y={657 + k * 63} fontSize={44}>{n}</text>
          </g>
        ))}
      </g>

      {/* annotation */}
      <g fill="#a259ee" textAnchor="middle">
        <g fontFamily="Lato, 'Open Sans', sans-serif" fontWeight={900} fontSize={57}>
          <text x={1233} y={798}>Not shown here: C/</text>
          <text x={1233} y={874}>2014 UN<tspan fontFamily={SERIF} fontWeight={400} fontSize={38} dy={12}>271</tspan></text>
          <text x={1233} y={950}>(Bernardinelli-</text>
          <text x={1233} y={1020}>Bernstein)</text>
        </g>
        <text x={1233} y={1090} fontSize={53} fontFamily={SERIF}>
          <tspan fontStyle="italic">a</tspan> ≈ 20,000 au, <tspan fontStyle="italic">e</tspan> ≈ 1,<tspan fontStyle="italic">i</tspan> ≈ 95°
        </text>
      </g>

      {/* source */}
      <text x={62} y={1968} fontFamily="Roboto, sans-serif" fontSize={42} fill="#555"
        textLength={765} lengthAdjust="spacingAndGlyphs">Bernardinelli et al (2022) - ApJS, 258, 41</text>
    </svg>
  );
}
